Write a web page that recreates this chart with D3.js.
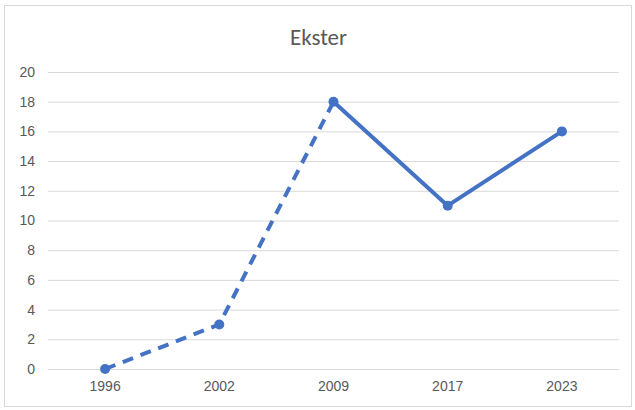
<!DOCTYPE html>
<html>
<head>
<meta charset="utf-8">
<script src="https://cdn.jsdelivr.net/npm/d3@7"></script>
<style>
  body { margin: 0; background: #fff; }
  svg { display: block; font-family: Calibri, Carlito, Lato, "Open Sans", sans-serif; }
</style>
</head>
<body>
<div id="chart"></div>
<script>
const canvas = { w: 635, h: 410 };

const years = ["1996", "2002", "2009", "2017", "2023"];
const counts = [0, 3, 18, 11, 16];
const yTicks = [0, 2, 4, 6, 8, 10, 12, 14, 16, 18, 20];
const dashedUntil = "2009"; // first segments are dashed up to here

const margin = { top: 72, right: 16, bottom: 41, left: 48 };

const svg = d3.select("#chart")
    .append("svg")
    .attr("width", canvas.w)
    .attr("height", canvas.h);

// chart frame
svg.append("rect")
    .attr("x", 4.5).attr("y", 5.5)
    .attr("width", 627).attr("height", 401)
    .attr("fill", "#fff")
    .attr("stroke", "#d9d9d9");

const x = d3.scaleBand()
    .domain(years)
    .range([margin.left, canvas.w - margin.right]);

const y = d3.scaleLinear()
    .domain([0, 20])
    .range([canvas.h - margin.bottom, margin.top]);

const cx = d => x(d) + x.bandwidth() / 2;

// gridlines + y labels
const yAxis = svg.append("g")
    .attr("transform", `translate(${margin.left},0)`)
    .call(d3.axisLeft(y).tickValues(yTicks)
        .tickSize(-(canvas.w - margin.left - margin.right))
        .tickPadding(13));
yAxis.select(".domain").remove();
yAxis.selectAll(".tick line").attr("stroke", "#d9d9d9").attr("stroke-width", 1);
yAxis.selectAll(".tick text").attr("fill", "#595959").style("font-size", "14px");

// x labels
const xAxis = svg.append("g")
    .attr("transform", `translate(0,${canvas.h - margin.bottom})`)
    .call(d3.axisBottom(x).tickSize(0).tickPadding(12));
xAxis.select(".domain").remove();
xAxis.selectAll(".tick text").attr("fill", "#595959").style("font-size", "14px");

// title
svg.append("text")
    .attr("x", canvas.w / 2 + 1)
    .attr("y", 45)
    .attr("text-anchor", "middle")
    .attr("fill", "#595959")
    .style("font-size", "23px")
    .text("Ekster");

const pts = years.map((yr, i) => ({ yr, v: counts[i] }));
const cut = years.indexOf(dashedUntil);

const line = d3.line()
    .x(d => cx(d.yr))
    .y(d => y(d.v));

const blue = "#4472c4";

svg.append("path")
    .datum(pts.slice(0, cut + 1))
    .attr("d", line)
    .attr("fill", "none")
    .attr("stroke", blue)
    .attr("stroke-width", 4)
    .attr("stroke-dasharray", "11,8");

svg.append("path")
    .datum(pts.slice(cut))
    .attr("d", line)
    .attr("fill", "none")
    .attr("stroke", blue)
    .attr("stroke-width", 4)
    .attr("stroke-linejoin", "round");

svg.selectAll("circle.pt")
    .data(pts)
    .join("circle")
    .attr("class", "pt")
    .attr("cx", d => cx(d.yr))
    .attr("cy", d => y(d.v))
    .attr("r", 5)
    .attr("fill", blue);
</script>
</body>
</html>
